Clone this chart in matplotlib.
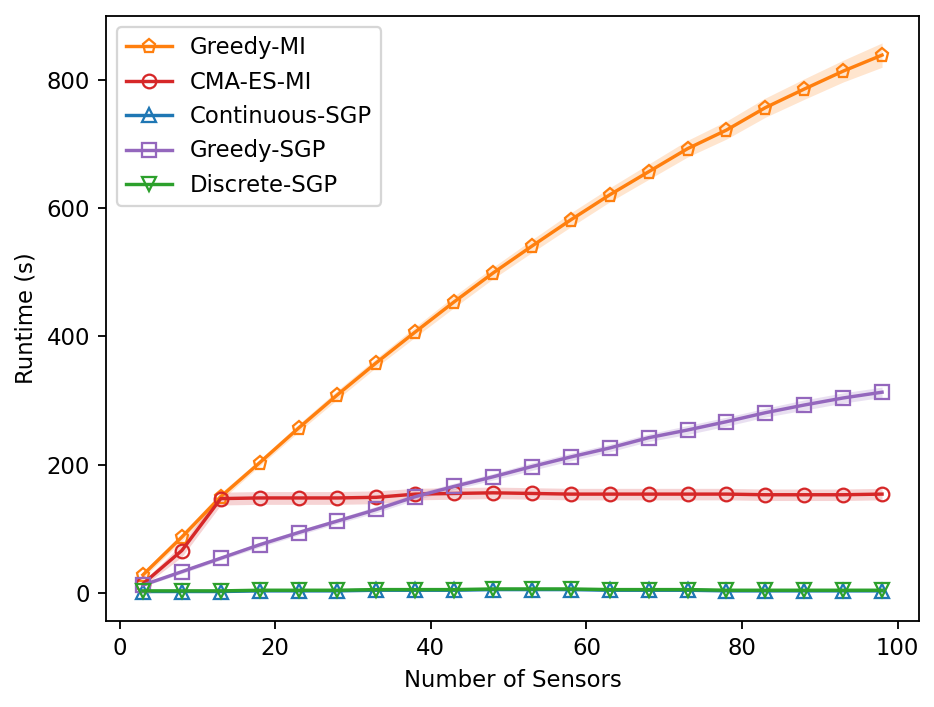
import numpy as np
import matplotlib
matplotlib.use("Agg")
import matplotlib.pyplot as plt

num_sensors = np.arange(3, 100, 5)

greedy_mi = [28, 87, 150, 203, 257, 309, 359, 407, 454, 499, 541, 582, 621, 657, 693, 722, 757, 786, 814, 839]
greedy_mi_std = [5, 6, 6, 5, 6, 7, 7, 8, 9, 9, 10, 11, 11, 12, 13, 14, 15, 16, 17, 19]
cma_es_mi = [14, 66, 147, 148, 148, 148, 149, 154, 155, 156, 155, 154, 154, 154, 154, 154, 153, 153, 153, 154]
cma_es_mi_std = [4, 10, 10, 10, 10, 10, 10, 9, 9, 9, 9, 9, 9, 9, 9, 9, 9, 9, 9, 9]
continuous_sgp = [2, 2, 2, 3, 3, 3, 4, 4, 4, 5, 5, 5, 4, 4, 4, 3, 3, 3, 3, 3]
continuous_sgp_std = [1] * 20
greedy_sgp = [12, 33, 54, 75, 94, 112, 130, 150, 166, 181, 197, 212, 226, 242, 254, 267, 281, 293, 304, 313]
greedy_sgp_std = [2, 3, 3, 4, 4, 4, 5, 5, 5, 5, 6, 6, 6, 6, 7, 7, 7, 8, 8, 8]
discrete_sgp = [3, 3, 3, 4, 4, 4, 5, 5, 5, 6, 6, 6, 5, 5, 5, 4, 4, 4, 4, 4]
discrete_sgp_std = [1] * 20

series = [
    ("Greedy-MI", greedy_mi, greedy_mi_std, "tab:orange", "p"),
    ("CMA-ES-MI", cma_es_mi, cma_es_mi_std, "tab:red", "o"),
    ("Continuous-SGP", continuous_sgp, continuous_sgp_std, "tab:blue", "^"),
    ("Greedy-SGP", greedy_sgp, greedy_sgp_std, "tab:purple", "s"),
    ("Discrete-SGP", discrete_sgp, discrete_sgp_std, "tab:green", "v"),
]

dpi = 163.5
fig = plt.figure(figsize=(935 / dpi, 707 / dpi), dpi=dpi)
ax = fig.add_axes([106 / 935, 86 / 707, 813 / 935, 605 / 707])

for name, mean, std, color, marker in series:
    mean = np.array(mean, dtype=float)
    std = np.array(std, dtype=float)
    ax.plot(num_sensors, mean, color=color, marker=marker,
            markerfacecolor="none", label=name)
    ax.fill_between(num_sensors, mean - std, mean + std, color=color, alpha=0.2, linewidth=0)

ax.set_xlabel("Number of Sensors")
ax.set_ylabel("Runtime (s)")
ax.set_xlim(-1.75, 102.75)
ax.set_ylim(-44, 900)
ax.legend(loc="upper left")

fig.savefig("out.png", dpi=dpi)
